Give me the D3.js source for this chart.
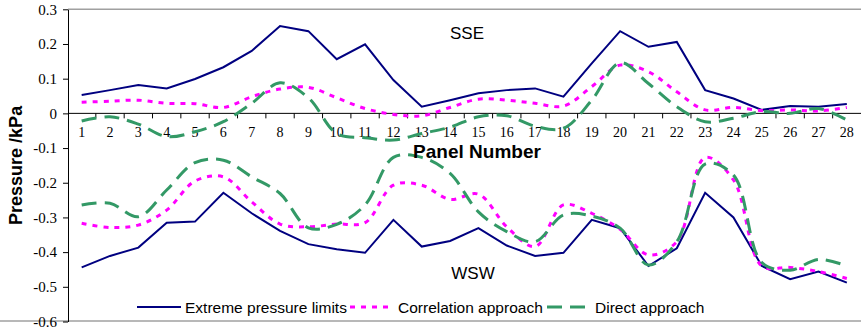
<!DOCTYPE html>
<html>
<head>
<meta charset="utf-8">
<script src="https://cdn.jsdelivr.net/npm/d3@7"></script>
<style>
  body { margin: 0; background: #fff; }
  svg { display: block; }
</style>
</head>
<body>
<svg id="chart" width="861" height="327"></svg>
<script>
const panels = d3.range(1, 29)
const yTicks = [0.3, 0.2, 0.1, 0, -0.1, -0.2, -0.3, -0.4, -0.5, -0.6]
const seriesNames = ['Extreme pressure limits', 'Correlation approach', 'Direct approach']

// SSE
const sseExtreme = [0.053, 0.067, 0.082, 0.072, 0.099, 0.133, 0.180, 0.252, 0.237, 0.156, 0.199, 0.096, 0.019, 0.038,
  0.058, 0.067, 0.072, 0.048, 0.144, 0.237, 0.192, 0.206, 0.067, 0.043, 0.010, 0.021, 0.019, 0.027]
const sseCorr = [0.032, 0.035, 0.038, 0.029, 0.028, 0.017, 0.048, 0.070, 0.075, 0.045, 0.014, -0.003, -0.007, 0.017,
  0.041, 0.038, 0.029, 0.021, 0.077, 0.139, 0.120, 0.062, 0.010, 0.017, 0.008, 0.010, 0.007, 0.017]
const sseDirect = [-0.022, -0.010, -0.031, -0.067, -0.053, -0.024, 0.029, 0.088, 0.045, -0.058, -0.070, -0.077, -0.058, -0.040,
  -0.010, -0.007, -0.037, -0.043, 0.038, 0.146, 0.086, 0.019, -0.024, -0.014, 0.005, 0.000, 0.014, -0.019]

// WSW
const wswExtreme = [-0.444, -0.411, -0.387, -0.315, -0.312, -0.229, -0.288, -0.339, -0.377, -0.392, -0.402, -0.307, -0.384, -0.368,
  -0.331, -0.381, -0.411, -0.402, -0.307, -0.331, -0.440, -0.389, -0.229, -0.300, -0.440, -0.478, -0.456, -0.488]
const wswCorr = [-0.317, -0.329, -0.322, -0.279, -0.195, -0.183, -0.255, -0.319, -0.327, -0.319, -0.315, -0.207, -0.207, -0.248,
  -0.233, -0.327, -0.384, -0.264, -0.288, -0.334, -0.408, -0.370, -0.127, -0.192, -0.440, -0.444, -0.456, -0.476]
const wswDirect = [-0.264, -0.259, -0.298, -0.221, -0.142, -0.135, -0.183, -0.231, -0.330, -0.320, -0.264, -0.127, -0.127, -0.173,
  -0.284, -0.341, -0.370, -0.293, -0.296, -0.331, -0.437, -0.370, -0.146, -0.178, -0.430, -0.452, -0.421, -0.440]

const styles = [
  { color: '#000080', width: 2, dash: null, smooth: false },
  { color: '#ff00ff', width: 3, dash: '5,6', smooth: true },
  { color: '#339966', width: 3, dash: '15,8', smooth: true }
]

const svg = d3.select('#chart')
const plotLeft = 68, plotRight = 861, plotTop = 9.3, plotBottom = 321.5
const serif = '"Liberation Serif", "Times New Roman", Times, serif'
const sans = '"Liberation Sans", Arial, sans-serif'

const x = d3.scaleBand().domain(panels).range([plotLeft - 0.5, plotRight])
const y = d3.scaleLinear().domain([-0.6, 0.3]).range([plotBottom, plotTop])

// plot frame (grey top / bottom)
svg.append('line').attr('x1', plotLeft).attr('x2', 861).attr('y1', plotTop).attr('y2', plotTop)
  .attr('stroke', '#a0a0a0').attr('stroke-width', 1.5)
svg.append('line').attr('x1', 0).attr('x2', 861).attr('y1', plotBottom - 0.5).attr('y2', plotBottom - 0.5)
  .attr('stroke', '#a0a0a0').attr('stroke-width', 1.5)

// y axis
const yAxis = d3.axisLeft(y).tickValues(yTicks).tickSize(5).tickSizeOuter(0)
  .tickFormat(d => String(Math.round(d * 10) / 10))
const gy = svg.append('g').attr('transform', 'translate(' + plotLeft + ',0)').call(yAxis)
gy.attr('font-family', serif).attr('font-size', 15)
gy.selectAll('text').attr('fill', '#000').attr('dx', -3)
gy.selectAll('line, path').attr('stroke', '#000')

// x axis along zero
const xAxis = d3.axisBottom(x).tickSize(0).tickPadding(14).tickSizeOuter(0)
const gx = svg.append('g').attr('transform', 'translate(0,' + y(0) + ')').call(xAxis)
gx.attr('font-family', serif).attr('font-size', 14)
gx.select('.domain').remove()
gx.append('line').attr('x1', plotLeft).attr('x2', plotRight).attr('stroke', '#000')
gx.selectAll('.tickmark').data(panels.slice(0, -1)).enter().append('line')
  .attr('class', 'tickmark')
  .attr('x1', d => x(d) + x.bandwidth()).attr('x2', d => x(d) + x.bandwidth())
  .attr('y1', 0).attr('y2', 5).attr('stroke', '#000')
gx.selectAll('text').attr('fill', '#000')

// lines
const groups = [[sseExtreme, sseCorr, sseDirect], [wswExtreme, wswCorr, wswDirect]]
groups.forEach(set => {
  set.forEach((vals, i) => {
    const st = styles[i]
    const line = d3.line()
      .x((d, j) => x(panels[j]) + x.bandwidth() / 2)
      .y(d => y(d))
      .curve(st.smooth ? d3.curveCatmullRom.alpha(0.5) : d3.curveLinear)
    svg.append('path')
      .attr('d', line(vals))
      .attr('fill', 'none')
      .attr('stroke', st.color)
      .attr('stroke-width', st.width)
      .attr('stroke-dasharray', st.dash)
  })
})

// labels
svg.append('text').attr('x', 467).attr('y', 39).attr('text-anchor', 'middle')
  .attr('font-family', sans).attr('font-size', 17).text('SSE')
svg.append('text').attr('x', 473).attr('y', 279).attr('text-anchor', 'middle')
  .attr('font-family', sans).attr('font-size', 17).text('WSW')
svg.append('text').attr('x', 477).attr('y', 158).attr('text-anchor', 'middle')
  .attr('font-family', sans).attr('font-size', 19).attr('font-weight', 'bold').text('Panel Number')
svg.append('text').attr('transform', 'translate(22,' + (plotTop + plotBottom) / 2 + ') rotate(-90)')
  .attr('text-anchor', 'middle').attr('font-family', sans).attr('font-size', 18)
  .attr('font-weight', 'bold').text('Pressure /kPa')

// legend
const legendX = [137, 350, 547]
const lg = svg.append('g').attr('transform', 'translate(0,307)')
seriesNames.forEach((name, i) => {
  const st = styles[i]
  lg.append('line').attr('x1', legendX[i]).attr('x2', legendX[i] + 44)
    .attr('stroke', st.color).attr('stroke-width', st.width).attr('stroke-dasharray', st.dash)
  lg.append('text').attr('x', legendX[i] + 48).attr('y', 5.5)
    .attr('font-family', sans).attr('font-size', 15.5).attr('fill', '#000').text(name)
})
</script>
</body>
</html>
